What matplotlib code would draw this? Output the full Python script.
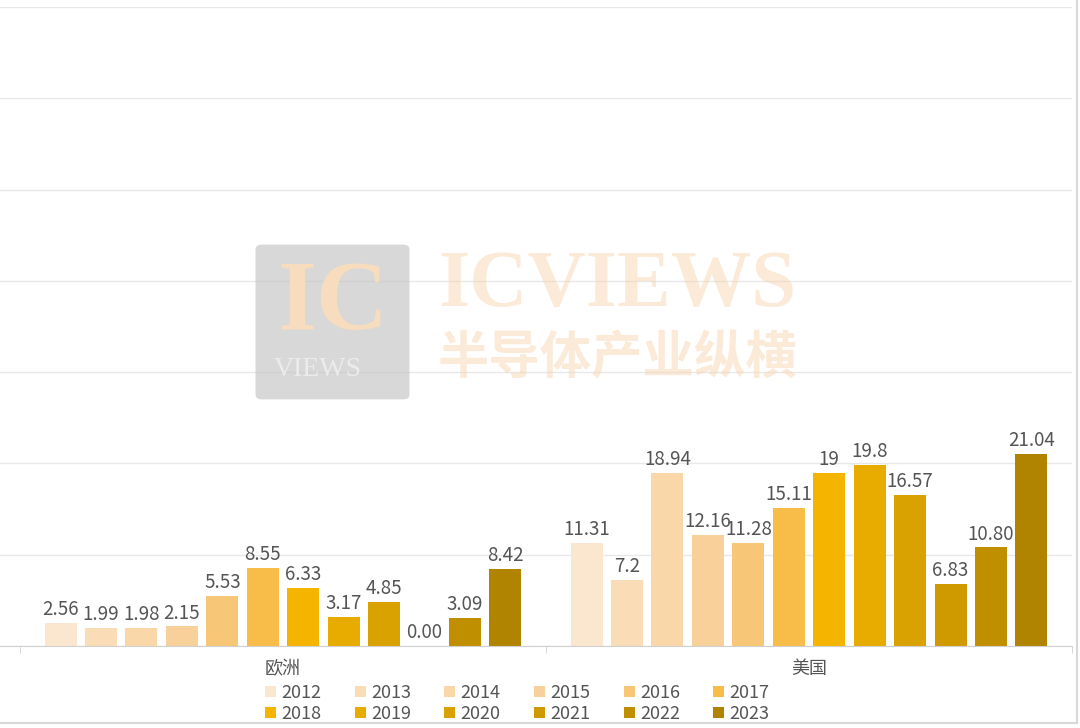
import matplotlib
matplotlib.use("Agg")
import matplotlib.pyplot as plt
from matplotlib.patches import Patch, FancyBboxPatch
from matplotlib.lines import Line2D
import numpy as np

plt.rcParams['font.family'] = ['Noto Sans CJK SC', 'DejaVu Sans']

regions = ["欧洲", "美国"]
years = ["2012", "2013", "2014", "2015", "2016", "2017",
         "2018", "2019", "2020", "2021", "2022", "2023"]
europe = [2.56, 1.99, 1.98, 2.15, 5.53, 8.55, 6.33, 3.17, 4.85, 0.00, 3.09, 8.42]
usa = [11.31, 7.2, 18.94, 12.16, 11.28, 15.11, 19, 19.8, 16.57, 6.83, 10.80, 21.04]
europe_labels = ["2.56", "1.99", "1.98", "2.15", "5.53", "8.55", "6.33", "3.17", "4.85", "0.00", "3.09", "8.42"]
usa_labels = ["11.31", "7.2", "18.94", "12.16", "11.28", "15.11", "19", "19.8", "16.57", "6.83", "10.80", "21.04"]
colors = ["#fbe6cf", "#fadcb6", "#f9d7a8", "#f8d09a", "#f7c676", "#f7bd48",
          "#f4b400", "#e8ac00", "#daa200", "#cf9a00", "#c08f00", "#b08400"]

fig = plt.figure(figsize=(10.8, 7.28), dpi=100)
ax = fig.add_axes([0, 82 / 728, 1072 / 1080, 639 / 728])

step = 40.45 / 526
width = 32 / 526
series = [europe, usa]
labels = [europe_labels, usa_labels]
for i, yr in enumerate(years):
    xs = np.arange(len(regions)) + (i - 5.5) * step
    vals = [s[i] for s in series]
    ax.bar(xs, vals, width=width, color=colors[i], zorder=2, label=yr)
    for x, v, lab in zip(xs, vals, [l[i] for l in labels]):
        ax.annotate(lab, (x, v), xytext=(0, 2), textcoords="offset points",
                    ha="center", va="bottom", fontsize=13.5, color="#555555")

ax.set_ylim(0, 70)
ax.set_xlim(-0.5 - 20 / 526, 1.5)
ax.set_yticks(np.arange(0, 71, 10))
ax.yaxis.grid(True, color="#e8e8e8", linewidth=1, zorder=0)
ax.set_axisbelow(True)
ax.tick_params(axis="y", left=False, labelleft=False)
ax.set_xticks([0, 1])
ax.set_xticklabels(regions, fontsize=13, color="#555555")
ax.set_xticks([-0.5, 0.5, 1.5], minor=True)
ax.tick_params(axis="x", which="major", length=0, pad=10)
ax.tick_params(axis="x", which="minor", length=5, color="#d0d0d0")
for s in ["top", "right", "left"]:
    ax.spines[s].set_visible(False)
ax.spines["bottom"].set_color("#d0d0d0")

# legend filled row by row: 2012-2017 on top, 2018-2023 below
order = [j for i in range(6) for j in (i, i + 6)]
handles = [Patch(facecolor=colors[k], edgecolor="none") for k in order]
fig.legend(handles, [years[k] for k in order], loc="upper left", ncol=6, frameon=False,
           bbox_to_anchor=(256 / 1080, 1 - 675 / 728), fontsize=13,
           handlelength=0.6, handleheight=0.6, handletextpad=0.3,
           columnspacing=1.85, labelspacing=0.15, borderpad=0,
           labelcolor="#555555")

# watermark
fig.add_artist(FancyBboxPatch((262 / 1080, 1 - 395 / 728), 141 / 1080, 146 / 728,
                              boxstyle="round,pad=0.006", transform=fig.transFigure,
                              facecolor="#c4c4c4", edgecolor="none", alpha=0.65, zorder=5))
fig.text(333 / 1080, 1 - 305 / 728, "IC", fontsize=72, family="Liberation Serif",
         fontweight="bold", color="#f7dcbd", ha="center", va="center", zorder=6)
fig.text(318 / 1080, 1 - 370 / 728, "VIEWS", fontsize=20, family="Liberation Serif",
         color="#eeeeee", ha="center", va="center", alpha=0.9, zorder=6)
fig.text(617 / 1080, 1 - 287 / 728, "ICVIEWS", fontsize=58, family="Liberation Serif",
         fontweight="bold", color="#f8d6b2", ha="center", va="center", alpha=0.5, zorder=6)
fig.text(617 / 1080, 1 - 358 / 728, "半导体产业纵横", fontsize=37, fontweight="bold",
         color="#f8d6b2", ha="center", va="center", alpha=0.5, zorder=6)

# screenshot border
fig.add_artist(Line2D([0, 1077 / 1080], [1 - 723 / 728] * 2, color="#d8d8d8",
                      linewidth=1.5, transform=fig.transFigure))
fig.add_artist(Line2D([1077 / 1080] * 2, [1 - 723 / 728, 1], color="#d8d8d8",
                      linewidth=1.5, transform=fig.transFigure))

fig.savefig("out.png", dpi=100)
